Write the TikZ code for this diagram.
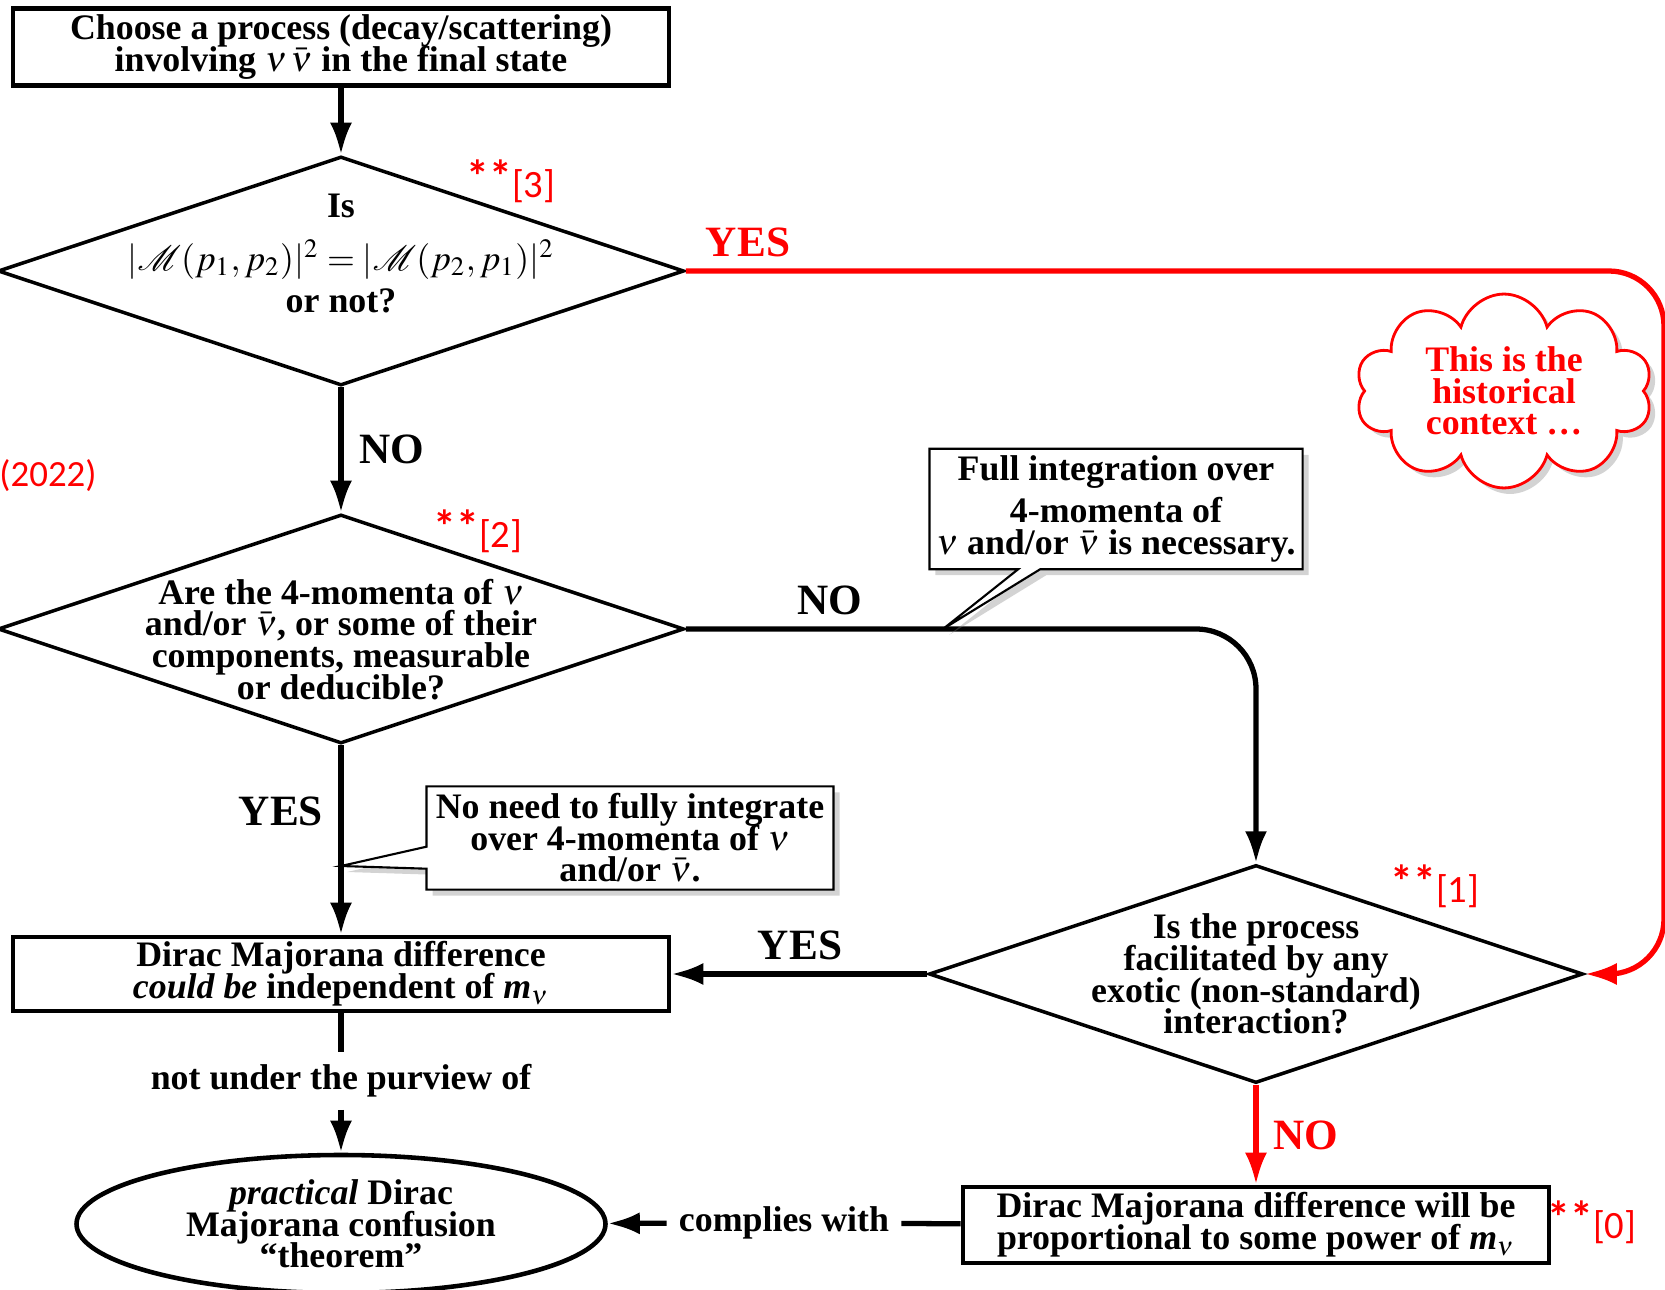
\documentclass[tikz,border=0pt]{standalone}
\usepackage{mathptmx}
\usepackage{mathrsfs}
\usepackage{fontspec}
\setmainfont{Liberation Serif}
\newfontfamily\refsans{Carlito}
\usetikzlibrary{shapes.geometric, shapes.symbols, shapes.callouts, shadows, arrows.meta}
\tikzset{>={Latex[length=3.2mm, width=2.2mm]}}
\newcommand{\boxsize}{\fontsize{10.2}{9}\selectfont\lineskiplimit=-\maxdimen}
\newcommand{\tagsize}{\fontsize{12.3}{13}\selectfont}
\tikzset{
    process/.style={draw, line width=1.3pt, align=center, inner sep=1pt, font=\boxsize\bfseries},
    decision/.style={diamond, draw, line width=1pt, aspect=3, inner sep=-8pt, align=center,
        minimum width=6.86cm, minimum height=2.29cm, font=\boxsize\bfseries},
    remark/.style={rectangle callout, draw, line width=.6pt, fill=white, align=center,
        callout pointer width=.22cm, inner sep=2pt, font=\boxsize\bfseries,
        drop shadow={shadow xshift=.6mm, shadow yshift=-.6mm, opacity=.35}},
    flow/.style={line width=1.5pt, ->},
    tag/.style={font=\tagsize\bfseries},
    cite/.style={text=red, font=\refsans\fontsize{11}{12}\selectfont, inner sep=0pt}
}
\newcommand{\stars}{\raisebox{1.5pt}{\fontsize{13}{13}\selectfont\bfseries**}}

\begin{document}
\begin{tikzpicture}
    \useasboundingbox (0, 0) rectangle (16.65, 12.89);
    \node[process, minimum width=6.56cm, minimum height=.77cm](start)at(3.41, 12.42)
        {Choose a process (decay/scattering)\\involving $\nu\,\bar\nu$ in the final state};
    \node[decision](q1)at(3.41, 10.18)
        {Is\\[6pt]$|\mathscr{M}(p_1, p_2)|^2 = |\mathscr{M}(p_2, p_1)|^2$\\[3pt]or not?\\[1pt]\mbox{}};
    \node[decision](q2)at(3.41, 6.60)
        {\mbox{}\\[4pt]Are the 4-momenta of $\nu$\\and/or $\bar\nu$, or some of their\\components, measurable\\or deducible?};
    \node[decision, minimum width=6.54cm, minimum height=2.18cm](q3)at(12.56, 3.15)
        {Is the process\\facilitated by any\\exotic (non-standard)\\interaction?};
    \node[process, minimum width=6.56cm, minimum height=.74cm](free)at(3.41, 3.15)
        {Dirac Majorana difference\\\textit{could be} independent of \textit{m}$_\nu$};
    \node[process, minimum width=5.86cm, minimum height=.76cm](prop)at(12.56, .64)
        {Dirac Majorana difference will be\\proportional to some power of \textit{m}$_\nu$};
    \node[ellipse, draw, line width=1.3pt, inner sep=0pt, minimum width=5.29cm, minimum height=1.38cm,
        align=center, font=\boxsize\bfseries](thm)at(3.41, .65)
        {\textit{practical} Dirac\\Majorana confusion\\``theorem''};
    \node[font=\boxsize\bfseries](purview)at(3.41, 2.08){not under the purview of};
    \node[font=\boxsize\bfseries](complies)at(7.84, .66){complies with};

    \coordinate(rim)at(16.64, 6);
    \coordinate(fulltip)at(9.43, 6.60);
    \coordinate(needtip)at(3.41, 4.23);

    \draw[flow](start)--(q1);
    \draw[flow](q1)--(q2);
    \draw[flow, red, rounded corners=.55cm](q1.east)--(q1.east -| rim)--(q3.east -| rim)--(q3.east);
    \draw[flow, rounded corners=.6cm](q2.east)-|(q3.north);
    \draw[flow](q2)--(free);
    \draw[flow](q3.west)--(free.east);
    \draw[flow, red](q3)--(prop);
    \draw[line width=1.5pt](free)--(purview);
    \draw[flow](purview)--(thm);
    \draw[line width=1.5pt](prop)--(complies);
    \draw[flow](complies)--(thm);

    \node[remark, callout absolute pointer={(fulltip)}, minimum width=3.72cm, minimum height=1.12cm](full)at(11.16, 7.80)
        {Full integration over\\[3pt]4-momenta of\\$\nu$ and/or $\bar\nu$ is necessary.};
    \node[remark, callout absolute pointer={(needtip)}, minimum width=4.07cm, minimum height=1.03cm](noneed)at(6.30, 4.51)
        {No need to fully integrate\\over 4-momenta of $\nu$\\and/or $\bar\nu$.};
    \node[cloud, cloud puffs=10, aspect=1.5, draw=red, line width=.8pt, fill=white, align=center, inner sep=0pt,
        minimum width=2.97cm, minimum height=1.86cm, text=red, font=\boxsize\bfseries,
        drop shadow={shadow xshift=.6mm, shadow yshift=-.6mm, opacity=.35}](cloud)at(15.04, 8.98)
        {This is the\\historical\\context \ldots};

    \node[tag, text=red](yesa)at(7.48, 10.47){YES};
    \node[tag](noa)at(3.92, 8.40){NO};
    \node[tag](nob)at(8.30, 6.89){NO};
    \node[tag](yesb)at(2.81, 4.78){YES};
    \node[tag](yesc)at(8.00, 3.44){YES};
    \node[tag, text=red](noc)at(13.06, 1.54){NO};

    \node[cite](ref3)at(5.11, 11.08){\stars[3]};
    \node[cite](ref2)at(4.78, 7.58){\stars[2]};
    \node[cite](ref1)at(14.35, 4.03){\stars[1]};
    \node[cite](ref0)at(15.92, .67){\stars[0]};
    \node[cite, font=\refsans\fontsize{10.5}{12}\selectfont](year)at(.48, 8.13){(2022)};
\end{tikzpicture}
\end{document}
